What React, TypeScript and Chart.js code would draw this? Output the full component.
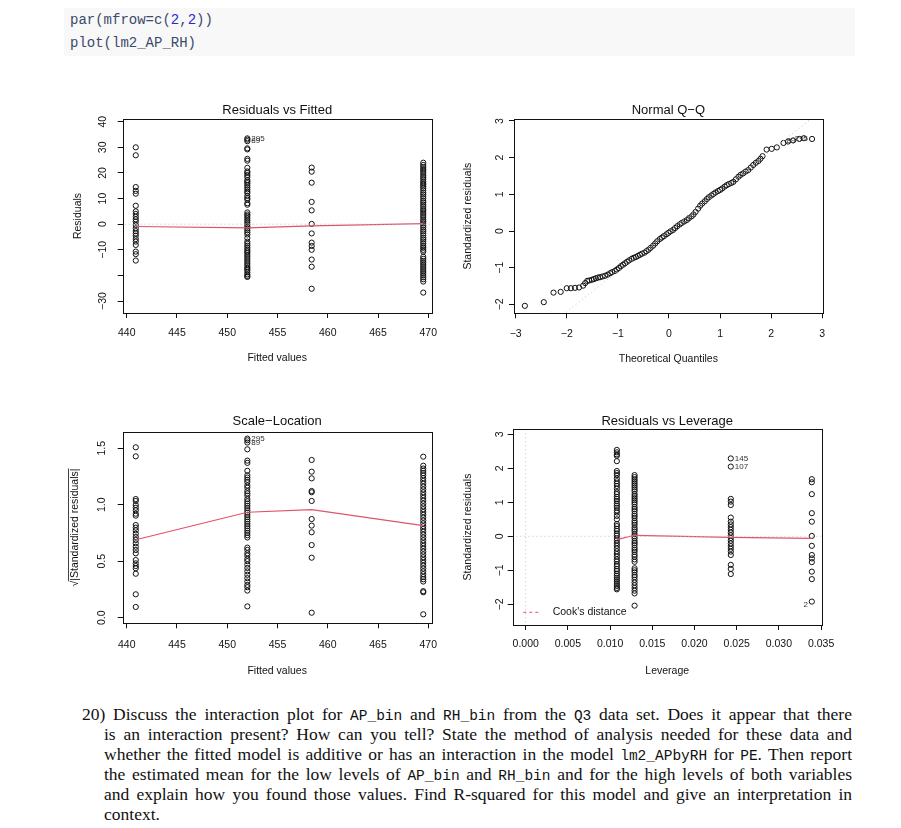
import React, { useEffect, useRef } from "react";
import { Chart, registerables } from "chart.js";

Chart.register(...registerables);

// ---------------- data ----------------
// Residuals vs Fitted
const fittedLevels = [440.9, 452.0, 458.4, 469.5];
const residAt4409 = [30.0, 26.9, 14.5, 13.0, 11.9, 7.2, 5.0, 4.0, 2.9, 1.9, 1.0, -0.3, -1.6, -2.7, -3.6, -4.5, -5.8, -6.8, -8.1, -10.7, -11.7, -14.2];
const residAt4520 = [33.5, 33.0, 32.4, 29.6, 29.2, 25.5, 24.8, 22.0, 20.6, 20.0, 19.2, 18.4, 17.2, 16.6, 16.0, 15.2, 14.4, 13.6, 12.8, 12.2, 11.0, 10.2, 9.6, 8.2, 7.6, 4.6, 3.8, 3.2, 2.4, 1.6, 0.8, 0.0, -0.8, -1.6, -2.4, -3.2, -4.0, -5.4, -6.8, -7.6, -8.4, -9.2, -10.0, -10.6, -11.2, -12.0, -12.8, -13.6, -14.4, -15.2, -16.0, -16.8, -17.4, -18.0, -18.8, -19.6, -20.2, -20.6];
const residAt4584 = [22.1, 20.5, 16.2, 8.7, 5.4, 0.1, -3.6, -7.2, -8.5, -10.0, -13.8, -16.6, -25.2];
const residAt4695 = [24.0, 23.1, 22.3, 21.5, 20.8, 20.0, 19.1, 18.4, 17.6, 16.7, 16.0, 15.4, 14.7, 14.0, 13.2, 12.3, 11.6, 10.8, 10.0, 9.1, 8.4, 7.6, 6.8, 5.9, 5.2, 4.4, 3.6, 2.8, 1.9, 1.2, 0.4, -0.4, -1.2, -2.1, -2.8, -3.6, -4.4, -5.3, -6.0, -6.8, -7.6, -8.5, -9.2, -10.0, -10.7, -12.7, -13.5, -14.3, -15.1, -15.9, -16.7, -17.5, -18.3, -19.1, -19.9, -20.7, -21.5, -22.4, -26.7];
const rvfSmooth = [-0.9, -1.4, -0.65, 0.26];
const rvfXTicks = [440, 445, 450, 455, 460, 465, 470];
const rvfYTicks = [-30, -10, 0, 10, 20, 30, 40];

// Normal Q-Q
const qqTheoretical = [
  -2.82, -2.45, -2.26, -2.12, -2.0, -1.92, -1.84, -1.76, -1.68, -1.64,
  -1.60, -1.56, -1.51, -1.47, -1.43, -1.39, -1.35, -1.30, -1.25, -1.20,
  -1.15, -1.11, -1.06, -1.02, -0.98, -0.94, -0.90, -0.86, -0.82, -0.78,
  -0.73, -0.69, -0.65, -0.61, -0.57, -0.53, -0.48, -0.44, -0.40, -0.36,
  -0.31, -0.27, -0.23, -0.18, -0.14, -0.10, -0.05, -0.01, 0.03, 0.08,
  0.12, 0.16, 0.21, 0.25, 0.30, 0.35, 0.39, 0.44, 0.48, 0.52,
  0.57, 0.61, 0.65, 0.70, 0.74, 0.78, 0.83, 0.87, 0.91, 0.96,
  1.00, 1.04, 1.09, 1.13, 1.17, 1.22, 1.26, 1.31, 1.36, 1.40,
  1.45, 1.50, 1.55, 1.60, 1.65, 1.70, 1.75, 1.79, 1.83, 1.91,
  2.01, 2.11, 2.24, 2.33, 2.43, 2.55, 2.64, 2.80
];
const qqStdResid = [
  -2.04, -1.94, -1.68, -1.66, -1.56, -1.56, -1.55, -1.54, -1.49, -1.42,
  -1.36, -1.35, -1.33, -1.31, -1.29, -1.27, -1.26, -1.24, -1.22, -1.19,
  -1.15, -1.12, -1.09, -1.05, -1.01, -0.96, -0.92, -0.88, -0.84, -0.80,
  -0.76, -0.73, -0.71, -0.68, -0.65, -0.62, -0.59, -0.55, -0.51, -0.46,
  -0.40, -0.34, -0.28, -0.22, -0.18, -0.14, -0.09, -0.05, -0.01, 0.03,
  0.08, 0.13, 0.18, 0.22, 0.26, 0.30, 0.35, 0.40, 0.45, 0.52,
  0.61, 0.69, 0.75, 0.81, 0.87, 0.92, 0.97, 1.01, 1.05, 1.09,
  1.12, 1.16, 1.21, 1.25, 1.28, 1.31, 1.34, 1.41, 1.48, 1.53,
  1.57, 1.62, 1.66, 1.73, 1.80, 1.86, 1.91, 1.97, 2.04, 2.22,
  2.24, 2.28, 2.40, 2.44, 2.47, 2.51, 2.53, 2.51
];
const qqLineX = [-3.3, 3.3];
const qqLineY = [-3.63, 3.63];
const qqTicks = [-3, -2, -1, 0, 1, 2, 3];
const qqYTicks = [-2, -1, 0, 1, 2, 3];

// Scale-Location
const sqrtStdAt4409 = [1.508, 1.428, 1.05, 1.033, 0.997, 0.973, 0.95, 0.92, 0.903, 0.82, 0.797, 0.773, 0.743, 0.714, 0.688, 0.658, 0.628, 0.599, 0.57, 0.51, 0.481, 0.457, 0.437, 0.389, 0.207, 0.095];
const sqrtStdAt4520 = [1.585, 1.57, 1.55, 1.49, 1.39, 1.37, 1.30, 1.26, 1.24, 1.22, 1.20, 1.17, 1.15, 1.12, 1.10, 1.08, 1.05, 1.03, 1.01, 0.99, 0.97, 0.95, 0.93, 0.91, 0.89, 0.87, 0.85, 0.83, 0.81, 0.79, 0.77, 0.75, 0.73, 0.71, 0.62, 0.60, 0.57, 0.55, 0.52, 0.50, 0.47, 0.44, 0.41, 0.38, 0.35, 0.32, 0.29, 0.27, 0.24, 0.10];
const sqrtStdAt4584 = [1.396, 1.292, 1.233, 1.121, 1.11, 1.033, 0.873, 0.815, 0.756, 0.643, 0.531, 0.044];
const sqrtStdAt4695 = [1.425, 1.345, 1.32, 1.30, 1.28, 1.26, 1.235, 1.21, 1.185, 1.16, 1.135, 1.11, 1.085, 1.06, 1.035, 1.01, 0.985, 0.96, 0.935, 0.91, 0.885, 0.86, 0.835, 0.81, 0.785, 0.76, 0.735, 0.71, 0.685, 0.66, 0.635, 0.61, 0.585, 0.56, 0.535, 0.51, 0.485, 0.46, 0.435, 0.41, 0.385, 0.36, 0.34, 0.32, 0.235, 0.225, 0.03];
const slSmooth = [0.69, 0.933, 0.956, 0.814];
const slYTicks = [0.0, 0.5, 1.0, 1.5];

// Residuals vs Leverage
const leverageLevels = [0.0108, 0.0129, 0.0243, 0.0339];
const stdAtLev0108 = [2.54, 2.47, 2.41, 2.37, 2.21, 1.92, 1.86, 1.80, 1.70, 1.62, 1.55, 1.48, 1.40, 1.30, 1.24, 1.16, 1.10, 1.04, 0.96, 0.90, 0.84, 0.76, 0.70, 0.60, 0.50, 0.36, 0.30, 0.22, 0.16, 0.08, 0.02, -0.06, -0.12, -0.20, -0.28, -0.36, -0.44, -0.52, -0.60, -0.68, -0.74, -0.82, -0.88, -0.96, -1.02, -1.10, -1.16, -1.22, -1.28, -1.34, -1.40, -1.46, -1.52, -1.56];
const stdAtLev0129 = [1.80, 1.74, 1.68, 1.62, 1.56, 1.50, 1.44, 1.38, 1.32, 1.24, 1.18, 1.12, 1.06, 1.00, 0.94, 0.86, 0.80, 0.74, 0.66, 0.60, 0.54, 0.46, 0.40, 0.34, 0.26, 0.20, 0.14, 0.06, 0.00, -0.06, -0.14, -0.20, -0.26, -0.34, -0.40, -0.46, -0.54, -0.60, -0.68, -0.75, -0.94, -1.00, -1.06, -1.14, -1.20, -1.28, -1.36, -1.44, -1.52, -1.60, -1.68, -2.04];
const stdAtLev0243 = [2.29, 2.05, 1.10, 1.02, 0.92, 0.55, 0.43, 0.35, 0.27, 0.19, 0.11, 0.03, -0.05, -0.13, -0.21, -0.29, -0.37, -0.45, -0.55, -0.84, -0.96, -1.11];
const stdAtLev0339 = [1.68, 1.59, 1.24, 0.68, 0.43, 0.01, -0.28, -0.55, -0.65, -0.76, -1.04, -1.26, -1.92];
const levSmooth = [-0.10, 0.03, -0.03, -0.06];
const levXTicks = [0, 0.005, 0.01, 0.015, 0.02, 0.025, 0.03, 0.035];
const levYTicks = [-2, -1, 0, 1, 2, 3];

// ---------------- styling helpers ----------------
const FONT = '"Liberation Sans", Arial, Helvetica, sans-serif';
const INK = "#111111";
const RED = "#DF536B";
const GRAY = "#BEBEBE";

const fmt = (v: number, d: number) => {
  const s = Math.abs(v).toFixed(d);
  return v < -1e-12 ? "\u2212" + s : s;
};
const at = (x: number, ys: number[]) => ys.map((y) => ({ x, y }));
const pairs = (xs: number[], ys: number[]) => xs.map((x, i) => ({ x, y: ys[i] }));

function pointsDs(data: any[]) {
  return {
    data,
    pointStyle: "circle",
    pointRadius: 2.6,
    pointHoverRadius: 2.6,
    pointBorderWidth: 1,
    pointBorderColor: INK,
    pointBackgroundColor: "rgba(0,0,0,0)",
    borderColor: INK,
    backgroundColor: "rgba(0,0,0,0)",
    showLine: false,
    order: 3,
  };
}
function lineDs(data: any[], color: string, width: number, dash: number[], order: number) {
  return {
    data,
    showLine: true,
    borderColor: color,
    borderWidth: width,
    borderDash: dash,
    pointRadius: 0,
    pointHoverRadius: 0,
    fill: false,
    tension: 0,
    clip: 0,
    order,
  };
}

function decorPlugin(spec: any) {
  return {
    id: "rdecor",
    afterDraw(chart: any) {
      const { ctx, chartArea: a, scales } = chart;
      const xs = scales.x;
      const ys = scales.y;
      ctx.save();
      ctx.strokeStyle = INK;
      ctx.lineWidth = 1;
      ctx.setLineDash([]);
      const l = Math.round(a.left), t = Math.round(a.top), r = Math.round(a.right), b = Math.round(a.bottom);
      ctx.strokeRect(l + 0.5, t + 0.5, r - l, b - t);
      ctx.fillStyle = INK;
      const cx = (a.left + a.right) / 2;
      const cy = (a.top + a.bottom) / 2;
      ctx.textAlign = "center";
      ctx.textBaseline = "middle";
      ctx.font = `13px ${FONT}`;
      ctx.fillText(spec.title, cx, a.top - spec.titleDy);
      ctx.font = `10.5px ${FONT}`;
      ctx.fillText(spec.xTitle, cx, a.bottom + spec.xTitleDy);
      spec.yTicks.forEach((v: number) => {
        const y = ys.getPixelForValue(v);
        ctx.save();
        ctx.translate(a.left - spec.yLabelDx, y);
        ctx.rotate(-Math.PI / 2);
        ctx.fillText(fmt(v, spec.yDec), 0, 0);
        ctx.restore();
      });
      ctx.save();
      ctx.translate(a.left - spec.yTitleDx, cy);
      ctx.rotate(-Math.PI / 2);
      if (spec.sqrtTitle) {
        const rad = "\u221A";
        const body = "|" + spec.yTitle + "|";
        const wr = ctx.measureText(rad).width;
        const wb = ctx.measureText(body).width;
        const x0 = -(wr + wb) / 2;
        ctx.textAlign = "left";
        ctx.fillText(rad, x0, 0);
        ctx.fillText(body, x0 + wr, 0);
        ctx.beginPath();
        ctx.lineWidth = 0.8;
        ctx.moveTo(x0 + wr - 0.5, -6.5);
        ctx.lineTo(x0 + wr + wb, -6.5);
        ctx.stroke();
      } else {
        ctx.fillText(spec.yTitle, 0, 0);
      }
      ctx.restore();
      ctx.font = `8px ${FONT}`;
      ctx.fillStyle = "#333333";
      (spec.labels || []).forEach((lab: any) => {
        const px = xs.getPixelForValue(lab.x);
        const py = ys.getPixelForValue(lab.y);
        ctx.textAlign = lab.align;
        ctx.fillText(lab.text, px + lab.dx, py + (lab.dy || 0));
      });
      if (spec.cooksLegend) {
        const ly = a.bottom - 12.7;
        ctx.strokeStyle = RED;
        ctx.lineWidth = 1;
        ctx.setLineDash([3, 3]);
        ctx.beginPath();
        ctx.moveTo(a.left + 10.6, ly);
        ctx.lineTo(a.left + 28.5, ly);
        ctx.stroke();
        ctx.setLineDash([]);
        ctx.fillStyle = INK;
        ctx.font = `10.5px ${FONT}`;
        ctx.textAlign = "left";
        ctx.fillText("Cook's distance", a.left + 40, ly);
      }
      ctx.restore();
    },
  };
}

function buildConfig(spec: any) {
  const gridOpts = { drawOnChartArea: false, drawTicks: true, tickLength: 5, color: INK, lineWidth: 1 };
  return {
    type: "scatter",
    data: { datasets: spec.datasets },
    options: {
      responsive: false,
      animation: false,
      events: [],
      layout: { padding: { left: 0, top: spec.padTop, right: spec.padRight, bottom: 0 } },
      plugins: { legend: { display: false }, tooltip: { enabled: false }, title: { display: false } },
      scales: {
        x: {
          type: "linear",
          position: "bottom",
          min: spec.xMin,
          max: spec.xMax,
          afterFit: (s: any) => {
            s.height = spec.xAxisH;
          },
          afterBuildTicks: (s: any) => {
            s.ticks = spec.xTicks.map((v: number) => ({ value: v }));
          },
          ticks: {
            autoSkip: false,
            maxRotation: 0,
            minRotation: 0,
            padding: spec.xTickPad,
            color: INK,
            font: { family: FONT, size: 10.5 },
            callback: (v: any) => fmt(Number(v), spec.xDec),
          },
          grid: gridOpts,
          border: { display: false },
        },
        y: {
          type: "linear",
          position: "left",
          min: spec.yMin,
          max: spec.yMax,
          afterFit: (s: any) => {
            s.width = spec.yAxisW;
          },
          afterBuildTicks: (s: any) => {
            s.ticks = spec.yTickMarks.map((v: number) => ({ value: v }));
          },
          ticks: { display: false },
          grid: gridOpts,
          border: { display: false },
        },
      },
    },
    plugins: [decorPlugin(spec)],
  };
}

// ---------------- plot specs ----------------
const specs: any[] = [
  {
    box: { left: 52, top: 87, width: 390, height: 280 },
    padTop: 24, padRight: 18.3, yAxisW: 62.7, xAxisH: 62,
    xMin: 439.6, xMax: 470.34, xTicks: rvfXTicks, xDec: 0, xTickPad: 8.4,
    yMin: -34.66, yMax: 41.06, yTickMarks: [-30, -20, -10, 0, 10, 20, 30, 40], yTicks: rvfYTicks, yDec: 0,
    title: "Residuals vs Fitted", titleDy: 9,
    xTitle: "Fitted values", xTitleDy: 45.3,
    yTitle: "Residuals", yTitleDx: 44.4, yLabelDx: 20,
    datasets: [
      lineDs(pairs([439, 471], [0, 0]), GRAY, 1, [1, 3], 0),
      lineDs(pairs(fittedLevels, rvfSmooth), RED, 1.2, [], 1),
      pointsDs(at(fittedLevels[0], residAt4409)),
      pointsDs(at(fittedLevels[1], residAt4520)),
      pointsDs(at(fittedLevels[2], residAt4584)),
      pointsDs(at(fittedLevels[3], residAt4695)),
    ],
    labels: [
      { x: fittedLevels[1], y: residAt4520[0], text: "295", align: "left", dx: 4 },
      { x: fittedLevels[1], y: residAt4520[2], text: "89", align: "left", dx: 4 },
    ],
  },
  {
    box: { left: 442, top: 87, width: 400, height: 280 },
    padTop: 24, padRight: 27.3, yAxisW: 64, xAxisH: 61.7,
    xMin: -3.033, xMax: 3.008, xTicks: qqTicks, xDec: 0, xTickPad: 9.7,
    yMin: -2.244, yMax: 3.054, yTickMarks: qqYTicks, yTicks: qqYTicks, yDec: 0,
    title: "Normal Q\u2212Q", titleDy: 9,
    xTitle: "Theoretical Quantiles", xTitleDy: 46,
    yTitle: "Standardized residuals", yTitleDx: 45.7, yLabelDx: 14.3,
    datasets: [
      lineDs(pairs(qqLineX, qqLineY), GRAY, 1, [1, 3], 0),
      pointsDs(pairs(qqTheoretical, qqStdResid)),
    ],
    labels: [
      { x: qqTheoretical[97], y: qqStdResid[97], text: "295", align: "right", dx: -4 },
      { x: qqTheoretical[95], y: qqStdResid[95], text: "89", align: "right", dx: -4, dy: 2 },
    ],
  },
  {
    box: { left: 52, top: 397, width: 390, height: 280 },
    padTop: 26.7, padRight: 18.3, yAxisW: 62.7, xAxisH: 61.7,
    xMin: 439.6, xMax: 470.34, xTicks: rvfXTicks, xDec: 0, xTickPad: 10.4,
    yMin: -0.0496, yMax: 1.646, yTickMarks: slYTicks, yTicks: slYTicks, yDec: 1,
    title: "Scale\u2212Location", titleDy: 10,
    xTitle: "Fitted values", xTitleDy: 47.4,
    yTitle: "Standardized residuals", sqrtTitle: true, yTitleDx: 47.7, yLabelDx: 20.3,
    datasets: [
      lineDs(pairs(fittedLevels, slSmooth), RED, 1.2, [], 1),
      pointsDs(at(fittedLevels[0], sqrtStdAt4409)),
      pointsDs(at(fittedLevels[1], sqrtStdAt4520)),
      pointsDs(at(fittedLevels[2], sqrtStdAt4584)),
      pointsDs(at(fittedLevels[3], sqrtStdAt4695)),
    ],
    labels: [
      { x: fittedLevels[1], y: sqrtStdAt4520[0], text: "295", align: "left", dx: 4 },
      { x: fittedLevels[1], y: sqrtStdAt4520[2], text: "89", align: "left", dx: 4 },
    ],
  },
  {
    box: { left: 442, top: 397, width: 400, height: 280 },
    padTop: 24, padRight: 28.3, yAxisW: 62.7, xAxisH: 60,
    xMin: -0.00154, xMax: 0.03507, xTicks: levXTicks, xDec: 3, xTickPad: 8,
    yMin: -2.609, yMax: 3.156, yTickMarks: levYTicks, yTicks: levYTicks, yDec: 0,
    title: "Residuals vs Leverage", titleDy: 8,
    xTitle: "Leverage", xTitleDy: 45.7,
    yTitle: "Standardized residuals", yTitleDx: 44.4, yLabelDx: 12.7,
    cooksLegend: true,
    datasets: [
      lineDs(pairs([-0.003, 0.037], [0, 0]), GRAY, 1, [1, 3], 0),
      lineDs(pairs([0, 0], [-3, 3.5]), GRAY, 1, [1, 3], 0),
      lineDs(pairs(leverageLevels, levSmooth), RED, 1.2, [], 1),
      pointsDs(at(leverageLevels[0], stdAtLev0108)),
      pointsDs(at(leverageLevels[1], stdAtLev0129)),
      pointsDs(at(leverageLevels[2], stdAtLev0243)),
      pointsDs(at(leverageLevels[3], stdAtLev0339)),
    ],
    labels: [
      { x: leverageLevels[2], y: stdAtLev0243[0], text: "145", align: "left", dx: 4 },
      { x: leverageLevels[2], y: stdAtLev0243[1], text: "107", align: "left", dx: 4 },
      { x: leverageLevels[3], y: stdAtLev0339[12], text: "2", align: "right", dx: -4, dy: 3 },
    ],
  },
];

function RPlot({ spec }: { spec: any }) {
  const ref = useRef<HTMLCanvasElement | null>(null);
  useEffect(() => {
    if (!ref.current) return;
    const chart = new Chart(ref.current, buildConfig(spec) as any);
    return () => chart.destroy();
  }, [spec]);
  const { left, top, width, height } = spec.box;
  return (
    <canvas
      ref={ref}
      width={width}
      height={height}
      style={{ position: "absolute", left, top, width, height }}
    />
  );
}

const mono: React.CSSProperties = { fontFamily: '"Liberation Mono", "DejaVu Sans Mono", monospace', fontSize: 14.5 };
const C = ({ children }: { children: React.ReactNode }) => <span style={mono}>{children}</span>;

const lineStyle = (left: number, top: number, width: number, last = false): React.CSSProperties => ({
  position: "absolute",
  left,
  top,
  width,
  height: 20,
  lineHeight: "20px",
  textAlign: "justify",
  textAlignLast: last ? "left" : "justify",
  whiteSpace: "normal",
});

export default function App() {
  return (
    <div style={{ position: "relative", width: 885, height: 812, background: "#ffffff" }}>
      <div
        style={{
          position: "absolute",
          left: 56,
          top: 0,
          width: 791,
          height: 48,
          background: "#f8f8f8",
          boxSizing: "border-box",
          paddingTop: 1,
          paddingLeft: 6,
          fontFamily: '"Liberation Mono", "DejaVu Sans Mono", monospace',
          fontSize: 14,
          lineHeight: "23px",
          color: "#3b4a6b",
          whiteSpace: "pre",
        }}
      >
        <div>
          par(mfrow=c(<span style={{ color: "#2a2ad0" }}>2</span>,<span style={{ color: "#2a2ad0" }}>2</span>))
        </div>
        <div>plot(lm2_AP_RH)</div>
      </div>

      {specs.map((s, i) => (
        <RPlot key={i} spec={s} />
      ))}

      <div style={{ fontFamily: '"Liberation Serif", "Times New Roman", serif', fontSize: 17.5, color: "#111" }}>
        <div style={lineStyle(74, 696, 770)}>
          20) Discuss the interaction plot for <C>AP_bin</C> and <C>RH_bin</C> from the <C>Q3</C> data set. Does it appear that there
        </div>
        <div style={lineStyle(96, 716, 748)}>
          is an interaction present? How can you tell? State the method of analysis needed for these data and
        </div>
        <div style={lineStyle(96, 736, 748)}>
          whether the fitted model is additive or has an interaction in the model <C>lm2_APbyRH</C> for <C>PE</C>. Then report
        </div>
        <div style={lineStyle(96, 756, 748)}>
          the estimated mean for the low levels of <C>AP_bin</C> and <C>RH_bin</C> and for the high levels of both variables
        </div>
        <div style={lineStyle(96, 776, 748)}>
          and explain how you found those values. Find R-squared for this model and give an interpretation in
        </div>
        <div style={lineStyle(96, 796, 748, true)}>context.</div>
      </div>
    </div>
  );
}
